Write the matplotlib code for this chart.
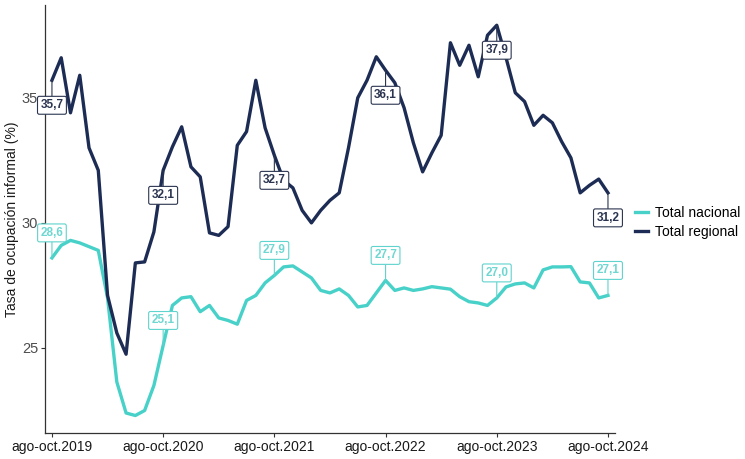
import matplotlib
matplotlib.use('Agg')
import matplotlib.pyplot as plt

plt.rcParams['font.family'] = ['Liberation Sans', 'DejaVu Sans']

### Data ###
tick_labels = ['ago-oct.2019', 'ago-oct.2020', 'ago-oct.2021',
               'ago-oct.2022', 'ago-oct.2023', 'ago-oct.2024']

regional = [35.7, 36.6, 34.4, 35.9, 33.0, 32.1, 27.1, 25.6, 24.75, 28.4,
            28.44, 29.64, 32.1, 33.04, 33.84, 32.24, 31.84, 29.6, 29.5, 29.85,
            33.1, 33.65, 35.7, 33.8, 32.7, 31.7, 31.4, 30.5, 30.0, 30.5,
            30.9, 31.2, 33.0, 35.0, 35.7, 36.64, 36.1, 35.6, 34.6, 33.2,
            32.04, 32.8, 33.5, 37.2, 36.3, 37.1, 35.84, 37.5, 37.9, 36.6,
            35.2, 34.85, 33.9, 34.3, 34.0, 33.25, 32.6, 31.2, 31.5, 31.75,
            31.2]

nacional = [28.6, 29.1, 29.3, 29.2, 29.05, 28.9, 27.0, 23.64, 22.4, 22.3,
            22.5, 23.5, 25.1, 26.7, 27.0, 27.05, 26.45, 26.7, 26.2, 26.1,
            25.95, 26.9, 27.1, 27.6, 27.9, 28.24, 28.28, 28.04, 27.8, 27.3,
            27.2, 27.36, 27.1, 26.64, 26.7, 27.2, 27.7, 27.3, 27.4, 27.3,
            27.36, 27.45, 27.4, 27.35, 27.05, 26.85, 26.8, 26.7, 27.0, 27.44,
            27.56, 27.6, 27.4, 28.12, 28.24, 28.24, 28.25, 27.64, 27.6, 27.0,
            27.1]

label_idx = [0, 12, 24, 36, 48, 60]  # ago-oct of each year

TEAL = '#48d1c8'
NAVY = '#1d2c54'

### Plot ###
fig = plt.figure(figsize=(7.45, 4.59), dpi=100)
ax = fig.add_axes([0.0604, 0.0566, 0.765, 0.932])

x = list(range(len(regional)))
ax.plot(x, nacional, color=TEAL, lw=2.4, label='Total nacional')
ax.plot(x, regional, color=NAVY, lw=2.4, label='Total regional')

def add_label(i, v, color, dy, alpha_txt):
    txt = f'{v:.1f}'.replace('.', ',')
    ax.annotate(txt, xy=(i, v), xytext=(0, dy), textcoords='offset points',
                ha='center', va='center', fontsize=8.5, fontweight='bold',
                color=color, alpha=alpha_txt,
                bbox=dict(boxstyle='round,pad=0.25,rounding_size=0.15',
                          fc='white', ec=color, lw=0.8),
                arrowprops=dict(arrowstyle='-', color=color, lw=0.8,
                                shrinkA=0, shrinkB=0),
                zorder=5)

for i in label_idx:
    add_label(i, regional[i], '#2b3550', -18, 1.0)
    add_label(i, nacional[i], '#5fd3cd', 18, 0.9)

ax.set_xlim(-0.75, 60.75)
ax.set_ylim(21.6, 38.7)
ax.set_xticks(label_idx)
ax.set_xticklabels(tick_labels, fontsize=10, color='#1a1a1a')
ax.set_yticks([25, 30, 35])
ax.set_yticklabels(['25', '30', '35'], fontsize=10.5, color='#4d4d4d')
ax.tick_params(axis='both', length=3, width=0.8, color='#333333', pad=2)
ax.set_ylabel('Tasa de ocupación informal (%)', fontsize=10, color='#1a1a1a', labelpad=2)

for s in ['top', 'right']:
    ax.spines[s].set_visible(False)
for s in ['left', 'bottom']:
    ax.spines[s].set_color('#333333')
    ax.spines[s].set_linewidth(0.9)

fig.legend(loc='center left', bbox_to_anchor=(0.836, 0.515), frameon=False,
           fontsize=10, handlelength=0.9, handletextpad=0.5, labelspacing=0.35)

fig.savefig('out.png', dpi=100)
